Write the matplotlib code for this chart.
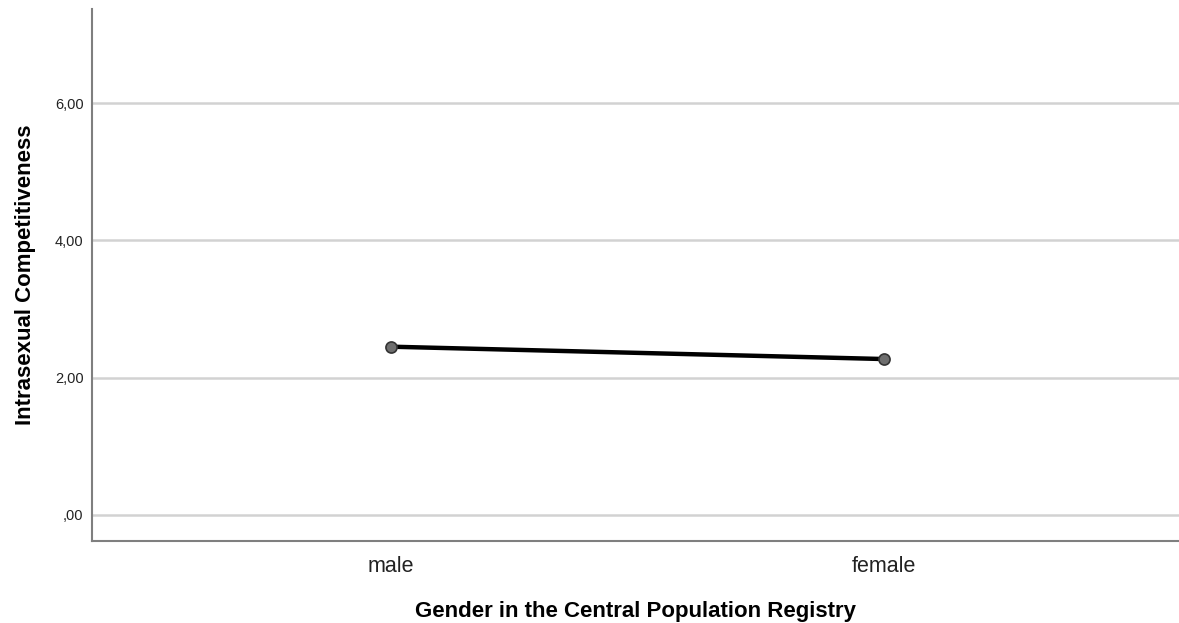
import matplotlib.pyplot as plt

# data
groups = ["male", "female"]
means = [2.45, 2.27]
yticks = [0, 2, 4, 6]
ytick_labels = [",00", "2,00", "4,00", "6,00"]

plt.rcParams['font.family'] = ['Liberation Sans', 'DejaVu Sans']

fig = plt.figure(figsize=(11.79, 6.23), dpi=100)
ax = fig.add_axes([0.078, 0.131, 0.922, 0.855])

ax.set_ylim(-0.39, 7.38)
ax.set_xlim(-0.608, 1.6)
ax.set_yticks(yticks)
ax.set_yticklabels(ytick_labels, fontsize=10.5, color="#222222")
ax.set_xticks(range(len(groups)))
ax.set_xticklabels(groups, fontsize=15.5, color="#222222")
ax.tick_params(length=0)
ax.tick_params(axis='y', pad=6)
ax.tick_params(axis='x', pad=10.5)

ax.grid(axis='y', color="#d2d2d2", linewidth=1.8)
ax.set_axisbelow(True)

for s in ["top", "right"]:
    ax.spines[s].set_visible(False)
for s in ["left", "bottom"]:
    ax.spines[s].set_color("#7f7f7f")
    ax.spines[s].set_linewidth(1.5)

ax.plot(range(len(groups)), means, color="black", linewidth=3.2,
        marker="o", markersize=8, markerfacecolor="#6e6e6e",
        markeredgecolor="#333333", markeredgewidth=1.2, zorder=3)

ax.set_xlabel("Gender in the Central Population Registry", fontsize=16,
              fontweight="bold", labelpad=17)
ax.set_ylabel("Intrasexual Competitiveness", fontsize=16,
              fontweight="bold", labelpad=14)

fig.savefig("out.png", dpi=100)
